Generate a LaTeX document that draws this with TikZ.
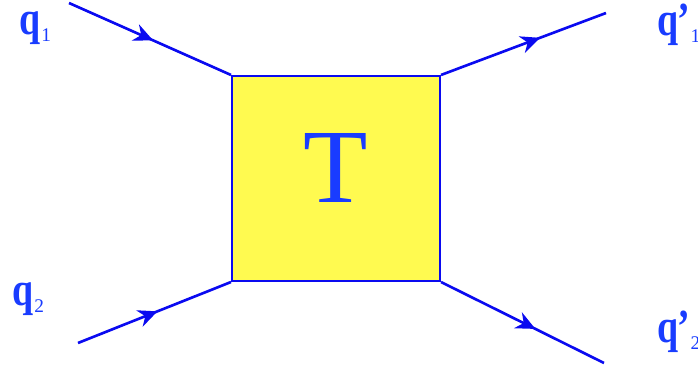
\documentclass[tikz,border=0pt]{standalone}
\usepackage{fontspec}
\setmainfont{Liberation Serif}
\usepackage{tikz}
\usetikzlibrary{arrows.meta, decorations.markings}
\definecolor{lineblue}{RGB}{10,10,240}
\definecolor{textblue}{RGB}{25,60,255}
\definecolor{boxyellow}{RGB}{255,250,80}
% momentum label: q, optional prime, small lowered index
\newcommand{\mom}[2]{\scalebox{0.8}[1]{q#2}\kern0.5pt\raisebox{-4pt}{\fontsize{11}{12}\selectfont\mdseries#1}}

\begin{document}
\begin{tikzpicture}[
  x=0.02cm, y=-0.02cm,
  tmat/.style={rectangle, draw=lineblue, fill=boxyellow, line width=1.2pt,
              minimum width=4.16cm, minimum height=4.1cm, inner sep=0pt},
  tlet/.style={text=textblue, font=\fontsize{60}{62}\selectfont, inner sep=0pt},
  leg/.style={line width=1.5pt, lineblue,
              postaction={decorate},
              decoration={markings, mark=at position #1 with
                {\arrow{Stealth[length=11pt, width=10pt]}}}},
  leg/.default=0.5,
  lbl/.style={text=textblue, font=\fontsize{27}{29}\selectfont\bfseries,
              inner sep=0pt, anchor=base west}
]
\useasboundingbox (0,0) rectangle (698,372);

% ── Central T-matrix box ──
\node[tmat, label={[tlet, yshift=0.22cm]center:T}] (tbox) at (336,178.5) {};

% ── Free ends of the four legs ──
\coordinate (in1)  at (69,3);
\coordinate (in2)  at (78,343);
\coordinate (out1) at (606,13);
\coordinate (out2) at (604,363);

% ── Legs: incoming into the box, outgoing away from it ──
\draw[leg=0.52] (in1)  -- (tbox.north west);
\draw[leg=0.52] (in2)  -- (tbox.south west);
\draw[leg=0.6]  (tbox.north east) -- (out1);
\draw[leg=0.58] (tbox.south east) -- (out2);

% ── Momentum labels ──
\node[lbl] (q1)  at (19,34)  {\mom{1}{}};
\node[lbl] (q2)  at (12,305) {\mom{2}{}};
\node[lbl] (qp1) at (657,35) {\mom{1}{\kern-1pt\textquoteright}};
\node[lbl] (qp2) at (657,342) {\mom{2}{\kern-1pt\textquoteright}};

\end{tikzpicture}
\end{document}
